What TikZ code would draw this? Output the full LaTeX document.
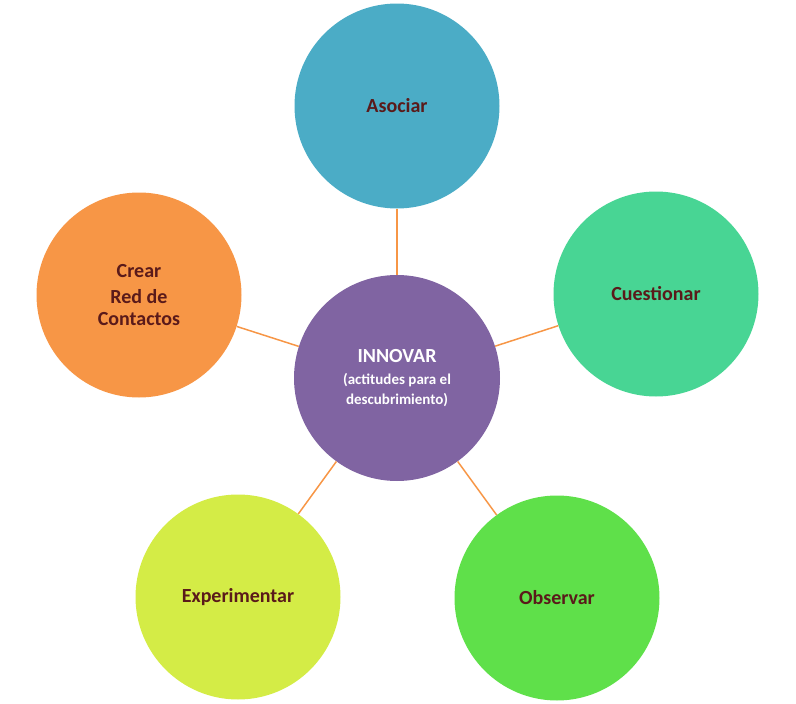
\documentclass[tikz,border=0pt]{standalone}
\usepackage{fontspec}
\setmainfont{Carlito}
\definecolor{txt}{HTML}{5A1A1A}
\definecolor{lin}{HTML}{F79646}
\definecolor{c1}{HTML}{4BACC6}
\definecolor{c2}{HTML}{48D594}
\definecolor{c3}{HTML}{5FE04A}
\definecolor{c4}{HTML}{D4EC46}
\definecolor{c5}{HTML}{F79646}
\definecolor{c0}{HTML}{8064A2}
\begin{document}
\begin{tikzpicture}[x=1pt,y=-1pt,
  bub/.style={circle,minimum size=205pt,inner sep=0pt,align=center,font=\bfseries\fontsize{20}{28}\selectfont,text=txt},
  con/.style={draw=lin,line width=1.5pt}]
\useasboundingbox (0,0) rectangle (796,704);
\node[bub,fill=c0,text=white,minimum size=206pt] (c) at (397,378) {INNOVAR\\[-6pt]{\fontsize{15}{18}\selectfont (actitudes para el}\\[-8pt]{\fontsize{15}{18}\selectfont descubrimiento)}};
\node[bub,fill=c1] (a) at (397,106) {Asociar};
\node[bub,fill=c2] (q) at (656,294) {Cuestionar};
\node[bub,fill=c3] (o) at (557,598) {Observar};
\node[bub,fill=c4] (e) at (238,597) {Experimentar};
\node[bub,fill=c5] (r) at (139,295) {Crear\\[-2pt]Red de\\[-6pt]Contactos};
\foreach \n in {a,q,o,e,r} \draw[con] (c) -- (\n);
\end{tikzpicture}
\end{document}
